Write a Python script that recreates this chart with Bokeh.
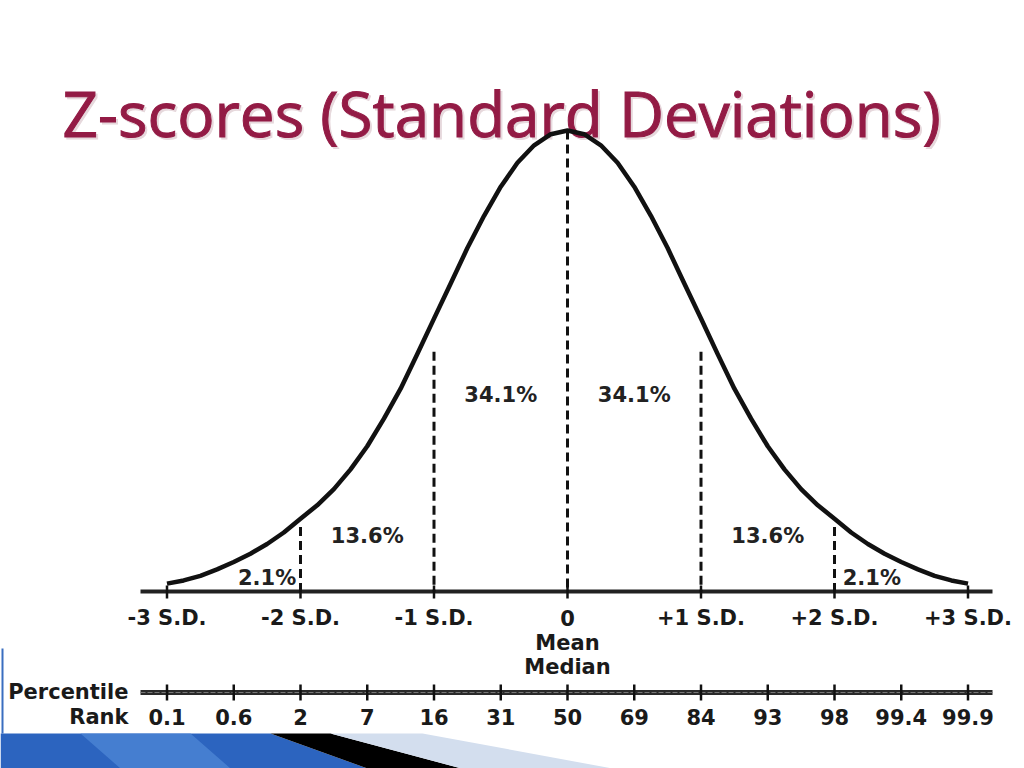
from bokeh.plotting import figure
from bokeh.models import Range1d
from bokeh.core.properties import value
from bokeh.embed import file_html
from bokeh.resources import INLINE

# ---------------- data ----------------
title_text = "Z-scores (Standard Deviations)"

curve_z = [-3.0, -2.875, -2.75, -2.625, -2.5, -2.375, -2.25, -2.125, -2.0,
           -1.875, -1.75, -1.625, -1.5, -1.375, -1.25, -1.125, -1.0,
           -0.875, -0.75, -0.625, -0.5, -0.375, -0.25, -0.125, 0.0,
           0.125, 0.25, 0.375, 0.5, 0.625, 0.75, 0.875, 1.0,
           1.125, 1.25, 1.375, 1.5, 1.625, 1.75, 1.875, 2.0,
           2.125, 2.25, 2.375, 2.5, 2.625, 2.75, 2.875, 3.0]
curve_h = [0.017, 0.024, 0.034, 0.048, 0.064, 0.082, 0.103, 0.128, 0.158,
           0.187, 0.222, 0.265, 0.315, 0.375, 0.440, 0.515, 0.592,
           0.668, 0.745, 0.815, 0.878, 0.930, 0.968, 0.992, 1.000,
           0.992, 0.968, 0.930, 0.878, 0.815, 0.745, 0.668, 0.592,
           0.515, 0.440, 0.375, 0.315, 0.265, 0.222, 0.187, 0.158,
           0.128, 0.103, 0.082, 0.064, 0.048, 0.034, 0.024, 0.017]

sd_z = [-3, -2, -1, 0, 1, 2, 3]
sd_labels = ["-3 S.D.", "-2 S.D.", "-1 S.D.", "0", "+1 S.D.", "+2 S.D.", "+3 S.D."]

divider_z = [-2, -1, 0, 1, 2]
divider_h = [0.140, 0.520, 1.000, 0.520, 0.140]

pct_z = [-2.25, -1.5, -0.5, 0.5, 1.5, 2.28]
pct_h = [0.030, 0.121, 0.427, 0.427, 0.121, 0.030]
pct_labels = ["2.1%", "13.6%", "34.1%", "34.1%", "13.6%", "2.1%"]

rank_z = [-3, -2.5, -2, -1.5, -1, -0.5, 0, 0.5, 1, 1.5, 2, 2.5, 3]
rank_labels = ["0.1", "0.6", "2", "7", "16", "31", "50", "69", "84", "93", "98", "99.4", "99.9"]

center_labels = ["Mean", "Median"]
rank_titles = ["Percentile", "Rank"]

# ---------------- layout helpers ----------------
W, H = 1024, 768
PX0, PXS = 567.0, 133.5      # image x of z=0, pixels per SD
PY0, PYS = 591.0, 461.0      # image y of baseline, pixels per unit height


def X(ix):
    return (ix - PX0) / PXS


def Y(iy):
    return (PY0 - iy) / PYS


p = figure(width=W, height=H, output_backend="svg", toolbar_location=None,
           x_range=Range1d(X(0), X(W)), y_range=Range1d(Y(H), Y(0)),
           min_border=0, background_fill_color="white", border_fill_color="white")
p.axis.visible = False
p.grid.visible = False
p.outline_line_color = None

INK = "#111111"
FONT = value("DejaVu Sans")
TITLE_RED = "#931B45"

# title (with faint shadow)
p.text(x=[X(64)], y=[Y(114)], text=[title_text], text_font=value("Open Sans"),
       text_font_size="62px", text_color="#e6d8dc", text_outline_color="#e6d8dc",
       text_baseline="alphabetic", text_align="left")
p.text(x=[X(62)], y=[Y(112)], text=[title_text], text_font=value("Open Sans"),
       text_font_size="62px", text_color=TITLE_RED, text_outline_color=TITLE_RED,
       text_baseline="alphabetic", text_align="left")

# bottom decoration
p.segment(x0=[X(2)], y0=[Y(648)], x1=[X(2)], y1=[Y(733)], line_color="#3A6EC0", line_width=2)
p.patch([X(0), X(270), X(367), X(0)], [Y(733), Y(733), Y(768), Y(768)],
        fill_color="#2C64BF", line_color=None)
p.patch([X(80), X(190), X(230), X(120)], [Y(733), Y(733), Y(768), Y(768)],
        fill_color="#4C84D4", line_color=None, fill_alpha=0.8)
p.patch([X(270), X(330), X(461), X(367)], [Y(733), Y(733), Y(768), Y(768)],
        fill_color="#000000", line_color=None)
p.patch([X(330), X(422), X(612), X(461)], [Y(733), Y(733), Y(768), Y(768)],
        fill_color="#D3DEEE", line_color=None)

# baseline axis
p.line([X(140), X(992)], [0, 0], line_color="#222222", line_width=4)
p.segment(x0=sd_z, y0=[Y(585)] * 7, x1=sd_z, y1=[Y(598)] * 7,
          line_color=INK, line_width=2.5)

# dashed dividers
p.segment(x0=divider_z, y0=divider_h, x1=divider_z, y1=[0] * 5,
          line_color=INK, line_width=3, line_dash="9 5")

# curve
p.line(curve_z, curve_h, line_color=INK, line_width=4.5, line_join="round")

# percentages
p.text(x=pct_z, y=pct_h, text=pct_labels, text_font=FONT, text_font_style="bold",
       text_font_size="21px", text_color="#222222", text_align="center",
       text_baseline="middle")

# SD labels
p.text(x=sd_z, y=[Y(617)] * 7, text=sd_labels, text_font=FONT,
       text_font_style="bold", text_font_size="21px", text_color="#1a1a1a",
       text_align="center", text_baseline="middle")
p.text(x=[0, 0], y=[Y(642), Y(666)], text=center_labels, text_font=FONT,
       text_font_style="bold", text_font_size="21px", text_color="#1a1a1a",
       text_align="center", text_baseline="middle")

# percentile rank axis
ry = Y(692)
p.line([X(140), X(992)], [ry, ry], line_color="#2a2a2a", line_width=5)
p.line([X(140), X(992)], [ry, ry], line_color="#777777", line_width=1.2, line_dash="5 2")
p.segment(x0=rank_z, y0=[Y(684)] * 13, x1=rank_z, y1=[Y(700)] * 13,
          line_color=INK, line_width=2.5)
p.text(x=rank_z, y=[Y(716)] * 13, text=rank_labels, text_font=FONT,
       text_font_style="bold", text_font_size="21px", text_color="#1a1a1a",
       text_align="center", text_baseline="middle")
p.text(x=[X(128), X(128)], y=[Y(691), Y(716)], text=rank_titles,
       text_font=FONT, text_font_style="bold", text_font_size="21px",
       text_color="#1a1a1a", text_align="right", text_baseline="middle")

open("out.html", "w").write(file_html(p, INLINE))
